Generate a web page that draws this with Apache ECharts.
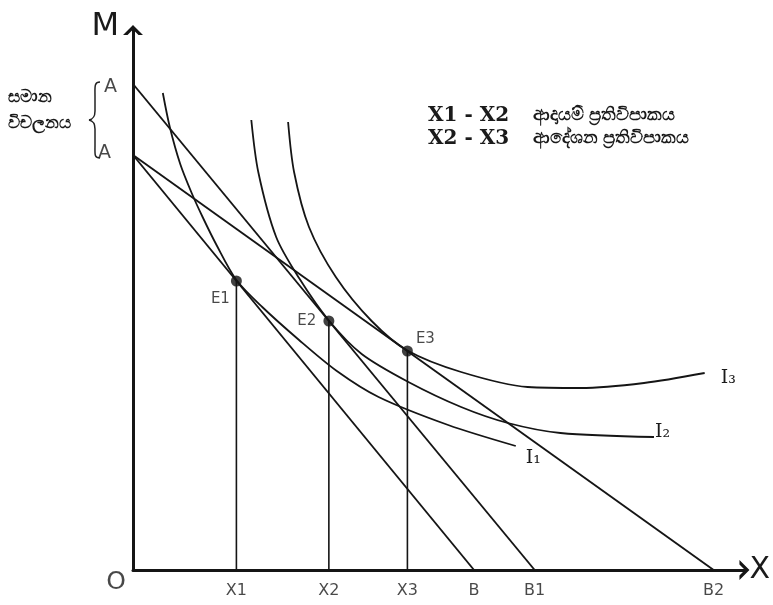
<!DOCTYPE html>
<html><head><meta charset="utf-8">
<script src="https://cdn.jsdelivr.net/npm/echarts@6/dist/echarts.min.js"></script>
<style>html,body{margin:0;padding:0;background:#fff}#c{width:773px;height:605px}</style>
</head><body><div id="c"></div>
<script>
// ---- data (diagram units) ----
const interceptLow = 83;      // lower A
const interceptHigh = 97.2;   // upper A
const budgetAB  = [[0, 83], [68.6, 0]];
const budgetAB1 = [[0, 97.2], [80.8, 0]];
const budgetAB2 = [[0, 83], [116.8, 0]];
const eqNames = ['E1', 'E2', 'E3'];
const eqX = [20.8, 39.4, 55.2];
const eqY = [57.8, 49.8, 43.8];
const axisTickNames = ['X1', 'X2', 'X3', 'B', 'B1', 'B2'];
const axisTickValues = [20.8, 39.4, 55.2, 68.6, 80.8, 116.8];
const i1X = [6, 7.4, 9.5, 11.8, 14, 16.8, 20.8, 26, 33.4, 41, 49.4, 63.4, 77];
const i1Y = [95.4, 88.6, 81.2, 75.4, 70.6, 65, 58, 52.6, 46.0, 39.8, 34.6, 29, 24.8];
const i2X = [23.8, 25.2, 28.8, 33.4, 39.4, 46, 55.4, 66, 75.4, 86, 104.8];
const i2Y = [90, 79.6, 66.6, 58.4, 49.9, 43.2, 37.6, 32.6, 29.4, 27.4, 26.6];
const i3X = [31.2, 32.4, 35.4, 40.8, 48, 55.2, 66, 79.4, 90, 102.8, 115];
const i3Y = [89.6, 79.6, 68.6, 58.6, 49.8, 43.9, 39.6, 36.6, 36.4, 37.4, 39.4];
const curveNames = ['I₁', 'I₂', 'I₃'];
const legendLines = ['X1 - X2', 'X2 - X3'];
const legendTexts = ['ආදායම් ප්‍රතිවිපාකය', 'ආදේශන ප්‍රතිවිපාකය'];
const bracketText = 'සමාන\nවිචලනය';

const zip = (xs, ys) => xs.map((x, i) => [x, ys[i]]);
const chevron = 'path://M0,10 L10,0 L20,10 L15.5,10 L10,4.5 L4.5,10 Z';
const sans = 'DejaVu Sans';
const serif = 'DejaVu Serif';

const lineBase = { type: 'line', symbol: 'none', silent: true, lineStyle: { color: '#151515', width: 1.9 } };

const series = [];
[budgetAB, budgetAB1, budgetAB2].forEach(d => series.push(Object.assign({}, lineBase, { data: d })));
eqX.forEach((x, i) => series.push(Object.assign({}, lineBase, { data: [[x, 0], [x, eqY[i]]], lineStyle: { color: '#151515', width: 1.6 } })));
const curves = [zip(i1X, i1Y), zip(i2X, i2Y), zip(i3X, i3Y)];
const endOffsets = [[8, 12], [-1, -5], [14, 5]];
curves.forEach((d, i) => series.push(Object.assign({}, lineBase, {
  data: d, smooth: 0.3,
  lineStyle: { color: '#151515', width: 1.8 },
  endLabel: { show: true, formatter: curveNames[i], fontFamily: serif, fontSize: 19, color: '#1a1a1a', distance: 2, offset: endOffsets[i] }
})));
// equilibrium points
const eqOffsets = [[-16, 18], [-22, 0], [18, -12]];
series.push({
  type: 'scatter', silent: true, symbolSize: 11, itemStyle: { color: '#111' },
  data: zip(eqX, eqY).map((p, i) => ({ value: p, label: { show: true, formatter: eqNames[i], position: 'inside', offset: eqOffsets[i], fontFamily: sans, fontSize: 15, color: '#1a1a1a' } }))
});
// x-axis point labels
series.push({
  type: 'scatter', silent: true, symbolSize: 0,
  data: axisTickValues.map((v, i) => ({ value: [v, 0], label: { show: true, formatter: axisTickNames[i], position: 'bottom', distance: 13, fontFamily: sans, fontSize: 16, color: '#1a1a1a' } }))
});
// y-axis intercept labels + origin
series.push({
  type: 'scatter', silent: true, symbolSize: 0,
  data: [
    { value: [0, interceptHigh], label: { show: true, formatter: 'A', position: 'left', distance: 16, offset: [0, 3], fontFamily: sans, fontSize: 19, color: '#1a1a1a' } },
    { value: [0, interceptLow], label: { show: true, formatter: 'A', position: 'left', distance: 22, offset: [0, -2], fontFamily: sans, fontSize: 19, color: '#1a1a1a' } },
    { value: [0, 0], label: { show: true, formatter: 'O', position: 'left', distance: 7, offset: [0, 12], fontFamily: sans, fontSize: 25, color: '#1a1a1a' } }
  ]
});

const braceStyle = { stroke: '#222', lineWidth: 1.5, fill: null };
const chart = echarts.init(document.getElementById('c'), null, { renderer: 'canvas' });
chart.setOption({
  animation: false,
  backgroundColor: '#fff',
  grid: { left: 133, right: 25, top: 30, bottom: 35 },
  xAxis: {
    type: 'value', min: 0, max: 123,
    name: 'X', nameLocation: 'end', nameGap: 5,
    nameTextStyle: { fontFamily: sans, fontSize: 30, color: '#1a1a1a', align: 'left', verticalAlign: 'middle' },
    axisLine: { show: true, lineStyle: { color: '#151515', width: 3 }, symbol: ['none', chevron], symbolSize: [20, 10] },
    axisTick: { show: false }, axisLabel: { show: false }, splitLine: { show: false }
  },
  yAxis: {
    type: 'value', min: 0, max: 108,
    name: 'M', nameLocation: 'end', nameGap: 3,
    nameTextStyle: { fontFamily: sans, fontSize: 32, color: '#1a1a1a', align: 'right', verticalAlign: 'middle', padding: [0, 14, 0, 0] },
    axisLine: { show: true, lineStyle: { color: '#151515', width: 3 }, symbol: ['none', chevron], symbolSize: [24, 10] },
    axisTick: { show: false }, axisLabel: { show: false }, splitLine: { show: false }
  },
  graphic: [
    { type: 'bezierCurve', shape: { x1: 100, y1: 82, cpx1: 94, cpy1: 82, cpx2: 95, cpy2: 87, x2: 95, y2: 96 }, style: braceStyle },
    { type: 'line', shape: { x1: 95, y1: 96, x2: 95, y2: 111 }, style: braceStyle },
    { type: 'bezierCurve', shape: { x1: 95, y1: 111, cpx1: 95, cpy1: 117, cpx2: 93, cpy2: 119, x2: 89, y2: 120 }, style: braceStyle },
    { type: 'bezierCurve', shape: { x1: 89, y1: 120, cpx1: 93, cpy1: 121, cpx2: 95, cpy2: 123, x2: 95, y2: 129 }, style: braceStyle },
    { type: 'line', shape: { x1: 95, y1: 129, x2: 95, y2: 146 }, style: braceStyle },
    { type: 'bezierCurve', shape: { x1: 95, y1: 146, cpx1: 95, cpy1: 154, cpx2: 94, cpy2: 158, x2: 100, y2: 158 }, style: braceStyle },
    { type: 'text', left: 8, top: 84, style: { text: bracketText, font: 'bold 17px "Noto Sans", sans-serif', fill: '#1a1a1a', lineHeight: 26 } },
    { type: 'text', left: 428, top: 106, style: { text: legendLines[0], font: 'bold 20px "DejaVu Serif"', fill: '#1a1a1a' } },
    { type: 'text', left: 428, top: 129, style: { text: legendLines[1], font: 'bold 20px "DejaVu Serif"', fill: '#1a1a1a' } },
    { type: 'text', left: 533, top: 106, style: { text: legendTexts[0], font: 'bold 18px "Noto Sans", sans-serif', fill: '#1a1a1a' } },
    { type: 'text', left: 533, top: 129, style: { text: legendTexts[1], font: 'bold 18px "Noto Sans", sans-serif', fill: '#1a1a1a' } }
  ],
  series: series
});
</script></body></html>
